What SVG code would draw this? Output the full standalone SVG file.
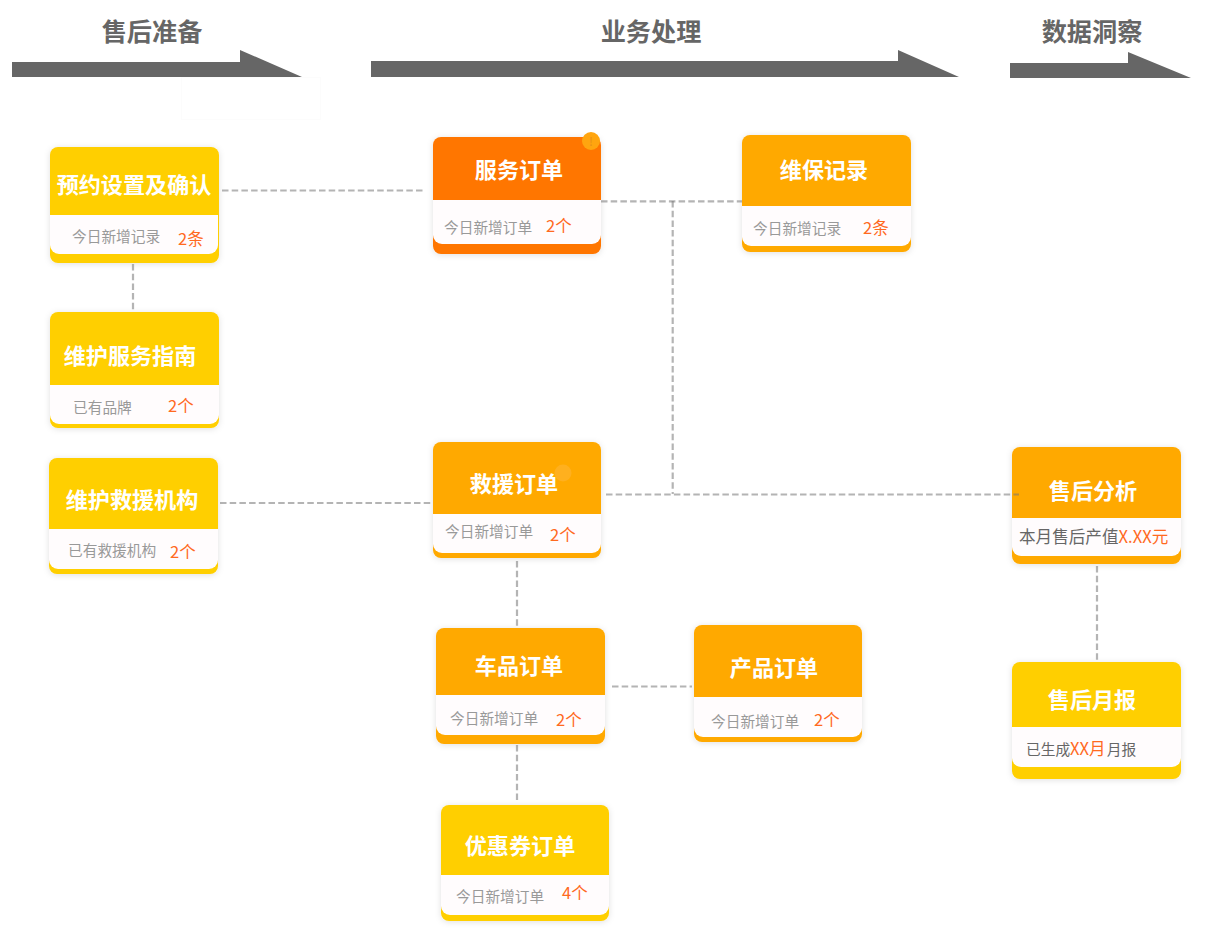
<svg xmlns="http://www.w3.org/2000/svg" width="1206" height="941" viewBox="0 0 1206 941">
<style>
text{font-family:"Noto Sans CJK SC","Noto Sans",sans-serif}
.h{font-size:25.200px;font-weight:700;fill:#666;text-anchor:middle}
.t{font-size:22.100px;font-weight:700;fill:#fff;text-anchor:middle}
.s{font-size:14.700px;fill:#999}
.v{font-size:16.500px;fill:#ff6a1f}
.d{font-size:16.600px;fill:#666}
.e{font-size:14.700px;fill:#666}
.o{fill:#ff6a1f}
.b{font-size:16.600px}
.w{fill:#fffcfd}
.c{fill:none;stroke:#777;stroke-opacity:.55;stroke-width:2.200;stroke-dasharray:6.500 3.200}
.y{fill:#ffcf06}.a{fill:#ffa902}.r{fill:#ff7600}
.ar{fill:#666}
</style>
<defs><filter id="sh" x="-15%" y="-15%" width="130%" height="130%"><feDropShadow dx="0" dy="1" stdDeviation="3" flood-color="#000" flood-opacity=".12"/></filter></defs>
<rect width="1206" height="941" fill="#fff"/>
<rect x="181.500" y="77.500" width="139" height="42" fill="none" stroke="#fcfcfc"/>
<g id="stages">
<polygon class="ar" points="12,62 240,62 240,50 302,77 12,77"/>
<polygon class="ar" points="371,61 898,61 898,50 959,77 371,77"/>
<polygon class="ar" points="1010,63 1128,63 1128,52 1191,78 1010,78"/>
<text class="h" x="152" y="41">售后准备</text>
<text class="h" x="651" y="41">业务处理</text>
<text class="h" x="1092" y="41">数据洞察</text>
</g>
<g id="n1"><rect class="y" x="50" y="147" width="169" height="116" rx="8" filter="url(#sh)"/><path class="w" d="M50 215H218V245a9 9 0 0 1-9 9H59a9 9 0 0 1-9-9Z"/><text class="t" x="134" y="193">预约设置及确认</text><text class="s" x="72" y="242">今日新增记录</text><text class="v" x="178" y="245">2条</text></g>
<g id="n2"><rect class="y" x="50" y="312" width="169" height="116" rx="8" filter="url(#sh)"/><path class="w" d="M50 385H219V415a9 9 0 0 1-9 9H59a9 9 0 0 1-9-9Z"/><text class="t" x="130" y="364">维护服务指南</text><text class="s" x="73" y="413">已有品牌</text><text class="v" x="168" y="412">2个</text></g>
<g id="n3"><rect class="y" x="49" y="458" width="169" height="116" rx="8" filter="url(#sh)"/><path class="w" d="M49 529H218V560a9 9 0 0 1-9 9H58a9 9 0 0 1-9-9Z"/><text class="t" x="132" y="508">维护救援机构</text><text class="s" x="68" y="556">已有救援机构</text><text class="v" x="170" y="558">2个</text></g>
<g id="n4"><rect class="r" x="433" y="137" width="168" height="117" rx="8" filter="url(#sh)"/><path class="w" d="M433 200H601V235a9 9 0 0 1-9 9H442a9 9 0 0 1-9-9Z"/><text class="t" x="519" y="178">服务订单</text><text class="s" x="444" y="233">今日新增订单</text><text class="v" x="546" y="232">2个</text><circle cx="591" cy="141" r="9" fill="#ffa50f"/><text x="591" y="146" font-size="12" fill="#e8901a" text-anchor="middle">!</text></g>
<g id="n5"><rect class="a" x="742" y="135" width="169" height="117" rx="8" filter="url(#sh)"/><path class="w" d="M742 206H911V237a9 9 0 0 1-9 9H751a9 9 0 0 1-9-9Z"/><text class="t" x="824" y="178">维保记录</text><text class="s" x="753" y="234">今日新增记录</text><text class="v" x="863" y="234">2条</text></g>
<g id="n6"><rect class="a" x="433" y="442" width="168" height="116" rx="8" filter="url(#sh)"/><path class="w" d="M433 514H601V544a9 9 0 0 1-9 9H442a9 9 0 0 1-9-9Z"/><circle cx="563" cy="473" r="8.500" fill="#ffb01e"/><text class="t" x="514" y="492">救援订单</text><text class="s" x="445" y="537">今日新增订单</text><text class="v" x="550" y="541">2个</text></g>
<g id="n7"><rect class="a" x="436" y="628" width="169" height="116" rx="8" filter="url(#sh)"/><path class="w" d="M436 695H605V726a9 9 0 0 1-9 9H445a9 9 0 0 1-9-9Z"/><text class="t" x="519" y="674">车品订单</text><text class="s" x="450" y="724">今日新增订单</text><text class="v" x="556" y="726">2个</text></g>
<g id="n8"><rect class="a" x="694" y="625" width="168" height="117" rx="8" filter="url(#sh)"/><path class="w" d="M694 697H862V728a9 9 0 0 1-9 9H703a9 9 0 0 1-9-9Z"/><text class="t" x="774" y="676">产品订单</text><text class="s" x="711" y="727">今日新增订单</text><text class="v" x="814" y="726">2个</text></g>
<g id="n9"><rect class="y" x="441" y="805" width="168" height="116" rx="8" filter="url(#sh)"/><path class="w" d="M441 875H609V906a9 9 0 0 1-9 9H450a9 9 0 0 1-9-9Z"/><text class="t" x="520" y="854">优惠券订单</text><text class="s" x="456" y="902">今日新增订单</text><text class="v" x="562" y="899">4个</text></g>
<g id="n10"><rect class="a" x="1012" y="447" width="169" height="117" rx="8" filter="url(#sh)"/><path class="w" d="M1012 518H1181V547a9 9 0 0 1-9 9H1021a9 9 0 0 1-9-9Z"/><text class="t" x="1093" y="499">售后分析</text><text class="d" x="1019" y="543">本月售后产值<tspan class="o">X.XX元</tspan></text></g>
<g id="n11"><rect class="y" x="1012" y="662" width="169" height="117" rx="8" filter="url(#sh)"/><path class="w" d="M1012 727H1181V758a9 9 0 0 1-9 9H1021a9 9 0 0 1-9-9Z"/><text class="t" x="1092" y="708">售后月报</text><text class="e" x="1026" y="755">已生成<tspan class="o b">XX月</tspan><tspan dx="1">月报</tspan></text></g>
<g id="connectors">
<path class="c" d="M222 190.500H425"/>
<path class="c" d="M133 264V310"/>
<path class="c" d="M220 503H433"/>
<path class="c" d="M601 201.300H742"/>
<path class="c" d="M672.700 201V494"/>
<path class="c" d="M606 494.500H1019"/>
<path class="c" d="M517 561V627"/>
<path class="c" d="M517 745V802"/>
<path class="c" d="M612 686.500H692"/>
<path class="c" d="M1097 566V660"/>
</g>
</svg>
